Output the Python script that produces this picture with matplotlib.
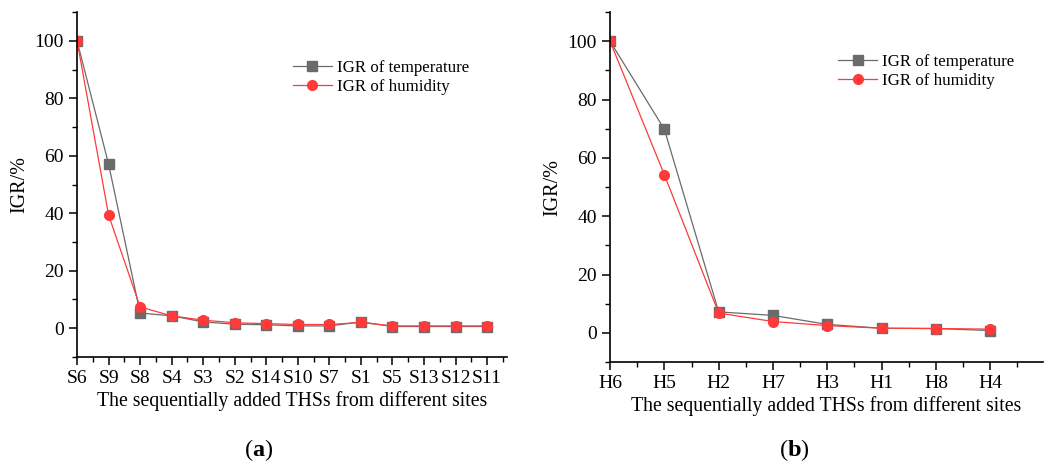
import numpy as np
import matplotlib.pyplot as plt
from matplotlib.ticker import MultipleLocator, FixedLocator

plt.rcParams['font.family'] = ['Liberation Serif', 'DejaVu Serif']
plt.rcParams['mathtext.fontset'] = 'custom'
plt.rcParams['mathtext.rm'] = 'Liberation Serif'
plt.rcParams['mathtext.bf'] = 'Liberation Serif:bold'

# panel (a): sites S
sites_a = ['S6', 'S9', 'S8', 'S4', 'S3', 'S2', 'S14', 'S10', 'S7', 'S1', 'S5', 'S13', 'S12', 'S11']
temp_a = [100, 57.1, 5.3, 4.3, 2.2, 1.4, 1.2, 0.8, 0.8, 2.2, 0.6, 0.6, 0.6, 0.6]
hum_a = [100, 39.4, 7.4, 4.3, 2.8, 1.9, 1.6, 1.3, 1.3, 2.0, 0.8, 0.8, 0.8, 0.8]

# panel (b): sites H
sites_b = ['H6', 'H5', 'H2', 'H7', 'H3', 'H1', 'H8', 'H4']
temp_b = [100, 69.8, 7.2, 6.0, 2.9, 1.6, 1.5, 0.8]
hum_b = [100, 54.2, 6.8, 3.9, 2.5, 1.6, 1.5, 1.3]

GREY = '#6b6b6b'
RED = '#ff3a3a'

fig = plt.figure(figsize=(10.58, 4.63), dpi=100)
ax1 = fig.add_axes([0.0728, 0.229, 0.4064, 0.745])
ax2 = fig.add_axes([0.5766, 0.218, 0.4092, 0.756])


def draw(ax, sites, temp, hum, xmax, leg_anchor):
    x = np.arange(len(sites))
    ax.plot(x, temp, color=GREY, lw=0.9, marker='s', ms=6.5, label='IGR of temperature')
    ax.plot(x, hum, color=RED, lw=0.9, marker='o', ms=7, label='IGR of humidity')
    ax.set_xlim(0, xmax)
    ax.set_ylim(-10, 110)
    ax.xaxis.set_major_locator(FixedLocator(x))
    ax.set_xticklabels(sites)
    ax.xaxis.set_minor_locator(MultipleLocator(0.5))
    ax.yaxis.set_major_locator(FixedLocator([0, 20, 40, 60, 80, 100]))
    ax.yaxis.set_minor_locator(MultipleLocator(10))
    for s in ['top', 'right']:
        ax.spines[s].set_visible(False)
    for s in ['left', 'bottom']:
        ax.spines[s].set_linewidth(1.2)
    ax.tick_params(which='major', direction='out', length=6, width=1.1, labelsize=14)
    ax.tick_params(which='minor', direction='out', length=3.5, width=1.0)
    ax.set_xlabel('The sequentially added THSs from different sites', fontsize=14.2, labelpad=3)
    ax.set_ylabel('IGR/%', fontsize=14.5, labelpad=4)
    ax.legend(loc='upper left', bbox_to_anchor=leg_anchor, frameon=False, fontsize=12.2,
              handlelength=2.3, handletextpad=0.3, labelspacing=0.2, borderaxespad=0)


draw(ax1, sites_a, temp_a, hum_a, 13.63, (0.486, 0.882))
draw(ax2, sites_b, temp_b, hum_b, 7.97, (0.511, 0.90))

fig.text(0.244, 0.0, r'($\mathbf{a}$)', ha='center', va='bottom', fontsize=17.5)
fig.text(0.751, 0.0, r'($\mathbf{b}$)', ha='center', va='bottom', fontsize=17.5)

fig.savefig('out.png', dpi=100)
